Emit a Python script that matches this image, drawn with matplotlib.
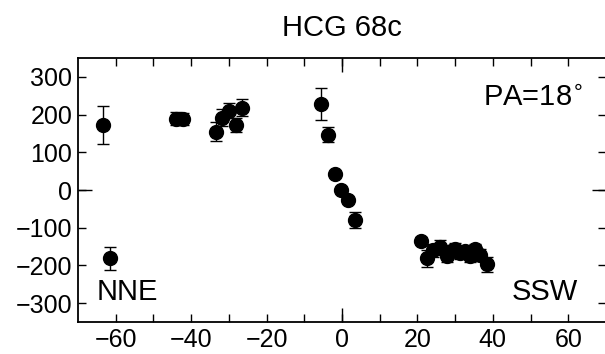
import numpy as np
import matplotlib.pyplot as plt
from matplotlib.ticker import MultipleLocator, FixedLocator

plt.rcParams['font.family'] = ['Liberation Sans', 'DejaVu Sans']

# position along slit (arcsec) and velocity (km/s)
r = [-63.3, -61.5, -44.0, -42.1, -33.4, -31.8, -29.9, -28.1, -26.5,
     -5.5, -3.7, -1.9, -0.3, 1.6, 3.4,
     20.9, 22.5, 24.1, 26.0, 27.8, 28.9, 29.9, 31.3, 32.6, 33.9, 35.2, 36.6, 38.4]
v = [173, -181, 189, 189, 155, 192, 210, 173, 218,
     228, 147, 42, 0, -26, -79,
     -134, -181, -160, -152, -176, -163, -157, -168, -163, -176, -157, -173, -197]
verr = [51, 31, 17, 16, 25, 23, 20, 18, 22,
        43, 21, 5, 5, 5, 21,
        10, 22, 18, 20, 14, 14, 16, 14, 14, 16, 14, 16, 20]

fig = plt.figure(figsize=(6.05, 3.54), dpi=100)
ax = fig.add_axes([78/605, 32/354, 528/605, 264/354])

ax.errorbar(r, v, yerr=verr, fmt='o', color='black', ms=10,
            elinewidth=1, capsize=4, capthick=1)

ax.set_xlim(-70, 70)
ax.set_ylim(-350, 350)

ax.xaxis.set_major_locator(FixedLocator(np.arange(-60, 61, 10)))
ax.set_xticklabels([str(t).replace('-', '\u2212') if t % 20 == 0 else ''
                    for t in range(-60, 61, 10)])
ax.xaxis.set_minor_locator(FixedLocator([0]))
ax.yaxis.set_major_locator(MultipleLocator(100))
ax.yaxis.set_minor_locator(FixedLocator([0]))
ax.xaxis.remove_overlapping_locs = False
ax.yaxis.remove_overlapping_locs = False

ax.tick_params(which='both', direction='in', top=True, right=True,
               labelsize=18, width=1, pad=4)
ax.tick_params(which='major', length=6)
ax.tick_params(which='minor', length=10)
for s in ax.spines.values():
    s.set_linewidth(1.3)

ax.set_title('HCG 68c', fontsize=21, pad=16)
ax.text(0.036, 0.083, 'NNE', transform=ax.transAxes, fontsize=21)
ax.text(0.947, 0.083, 'SSW', transform=ax.transAxes, fontsize=21, ha='right')
ax.text(0.767, 0.822, 'PA=18$^{\\circ}$', transform=ax.transAxes, fontsize=21)

fig.savefig('out.png', dpi=100)
